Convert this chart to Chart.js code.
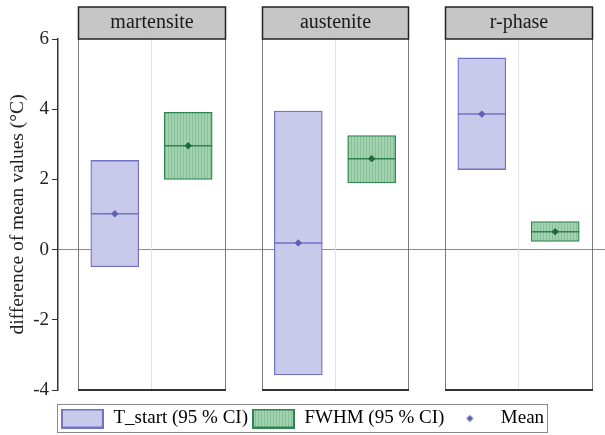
<!DOCTYPE html>
<html lang="en">
<head>
<meta charset="UTF-8" />
<title>difference of mean values</title>
<style>
  body { margin: 0; background: #fff; }
  #wrap { width: 605px; height: 435px; }
</style>
</head>
<body>
<div id="wrap"><canvas id="c" width="605" height="435"></canvas></div>
<script src="https://cdn.jsdelivr.net/npm/chart.js"></script>
<script>
// values
const phases = ['martensite', 'austenite', 'r-phase'];
const tStartLow  = [-0.49, -3.57, 2.28];
const tStartHigh = [2.54, 3.95, 5.46];
const tStartMean = [1.02, 0.19, 3.86];
const fwhmLow  = [2.0, 1.9, 0.23];
const fwhmHigh = [3.91, 3.25, 0.8];
const fwhmMean = [2.96, 2.59, 0.51];
const yTicks = [-4, -2, 0, 2, 4, 6];
const legendNames = ['T_start (95 % CI)', 'FWHM (95 % CI)', 'Mean'];

const FONT = "'Liberation Serif', 'Times New Roman', serif";
const BLUE_FILL = '#c9c9ec', BLUE_LINE = '#7272c4', BLUE_DOT = '#5f5fb3';
const GREEN_LINE = '#2f8450', GREEN_DOT = '#1d6a3a';
const side = 0.2;       // offset of each box from the panel centre
const panelHalf = 0.4;  // half width of a panel, in category units

// green hatched fill
function hatch() {
  const p = document.createElement('canvas');
  p.width = 3; p.height = 3;
  const g = p.getContext('2d');
  g.fillStyle = '#a2d2b0';
  g.fillRect(0, 0, 3, 3);
  g.fillStyle = '#86c096';
  g.fillRect(0, 0, 1, 3);
  return g.createPattern(p, 'repeat');
}
const GREEN_FILL = hatch();

// legend swatches
function swatch(fill, stroke) {
  const s = document.createElement('canvas');
  s.width = 43; s.height = 20;
  const g = s.getContext('2d');
  g.fillStyle = fill;
  g.fillRect(0, 0, 43, 20);
  g.strokeStyle = stroke; g.lineWidth = 2;
  g.strokeRect(1, 1, 41, 18);
  return s;
}
function dot() {
  const s = document.createElement('canvas');
  s.width = 43; s.height = 20;
  const g = s.getContext('2d');
  g.fillStyle = BLUE_DOT;
  g.beginPath();
  g.moveTo(21.5, 6.5); g.lineTo(25, 10); g.lineTo(21.5, 13.5); g.lineTo(18, 10);
  g.closePath(); g.fill();
  return s;
}
const legendIcons = [swatch(BLUE_FILL, BLUE_LINE), swatch(GREEN_FILL, GREEN_LINE), dot()];

const rng = (lo, hi, d) => phases.map((p, i) => ({x: i + d, y: [lo[i], hi[i]]}));
const pts = (v, d) => phases.map((p, i) => ({x: i + d, y: v[i]}));

const panels = {
  id: 'panels',
  beforeLayout(chart) {
    // the legend is a bit shorter than chart.js makes it
    const lg = chart.legend;
    if (lg && !lg._short) {
      const fit = lg.fit;
      lg.fit = function () { fit.call(this); this.height -= 3; };
      lg._short = true;
    }
  },
  beforeDatasetsDraw(chart) {
    const {ctx, chartArea: a, scales: {x}} = chart;
    ctx.save();
    phases.forEach((p, i) => {
      const c = x.getPixelForValue(i);
      const l = Math.round(x.getPixelForValue(i - panelHalf)) + 0.5;
      const r = Math.round(x.getPixelForValue(i + panelHalf)) + 0.5;
      ctx.lineWidth = 1;
      ctx.strokeStyle = '#e2e2e2';
      ctx.beginPath(); ctx.moveTo(Math.round(c) + 0.5, a.top); ctx.lineTo(Math.round(c) + 0.5, a.bottom); ctx.stroke();
      ctx.strokeStyle = '#7a7a7a';
      ctx.beginPath();
      ctx.moveTo(l, a.top); ctx.lineTo(l, a.bottom);
      ctx.moveTo(r, a.top); ctx.lineTo(r, a.bottom);
      ctx.stroke();
    });
    ctx.restore();
  },
  afterDraw(chart) {
    const {ctx, chartArea: a, scales: {x}} = chart;
    ctx.save();
    phases.forEach((p, i) => {
      const l = Math.round(x.getPixelForValue(i - panelHalf)) + 0.5;
      const r = Math.round(x.getPixelForValue(i + panelHalf)) + 0.5;
      ctx.strokeStyle = '#333'; ctx.lineWidth = 2;
      ctx.beginPath(); ctx.moveTo(l - 0.5, a.bottom); ctx.lineTo(r + 0.5, a.bottom); ctx.stroke();
      ctx.fillStyle = '#c6c6c6';
      ctx.fillRect(l, a.top - 32, r - l, 32);
      ctx.strokeStyle = '#222'; ctx.lineWidth = 1.5;
      ctx.strokeRect(l, a.top - 32, r - l, 32);
      ctx.fillStyle = '#1a1a1a';
      ctx.font = '20px ' + FONT;
      ctx.textAlign = 'center'; ctx.textBaseline = 'middle';
      ctx.fillText(p, (l + r) / 2, a.top - 16);
    });
    // frame round the legend
    const boxes = chart.legend.legendHitBoxes;
    if (boxes && boxes.length) {
      const first = boxes[0], last = boxes[boxes.length - 1];
      const x0 = Math.round(first.left) - 3.5, x1 = Math.round(last.left + last.width) + 3.5;
      const y0 = Math.round(first.top) - 4.5, y1 = Math.round(first.top + first.height) + 4.5;
      ctx.strokeStyle = '#8a8a8a'; ctx.lineWidth = 1;
      ctx.strokeRect(x0, y0, x1 - x0, y1 - y0);
    }
    ctx.restore();
  }
};

new Chart(document.getElementById('c'), {
  type: 'bar',
  data: {
    datasets: [
      {label: legendNames[0], data: rng(tStartLow, tStartHigh, -side), backgroundColor: BLUE_FILL,
       borderColor: BLUE_LINE, borderWidth: 1.3, borderSkipped: false, barThickness: 48, grouped: false, order: 3},
      {label: legendNames[1], data: rng(fwhmLow, fwhmHigh, side), backgroundColor: GREEN_FILL,
       borderColor: GREEN_LINE, borderWidth: 1.3, borderSkipped: false, barThickness: 48, grouped: false, order: 3},
      {type: 'scatter', label: 'tMeanLine', data: pts(tStartMean, -side), pointStyle: 'line', pointRadius: 24,
       borderColor: BLUE_LINE, pointBorderWidth: 1.5, order: 2},
      {type: 'scatter', label: 'fMeanLine', data: pts(fwhmMean, side), pointStyle: 'line', pointRadius: 24,
       borderColor: GREEN_LINE, pointBorderWidth: 1.5, order: 2},
      {type: 'scatter', label: legendNames[2], data: pts(tStartMean, -side), pointStyle: 'rectRot', pointRadius: 3.2,
       backgroundColor: BLUE_DOT, borderColor: BLUE_DOT, order: 1},
      {type: 'scatter', label: 'fMean', data: pts(fwhmMean, side), pointStyle: 'rectRot', pointRadius: 3.2,
       backgroundColor: GREEN_DOT, borderColor: GREEN_DOT, order: 1}
    ]
  },
  options: {
    responsive: false,
    animation: false,
    layout: {autoPadding: false, padding: {top: 39, right: 0, bottom: 0, left: 0}},
    scales: {
      x: {
        type: 'linear', min: -0.5095, max: 2.4714, offset: false,
        ticks: {display: false}, grid: {display: false, drawTicks: false}, border: {display: false},
        afterFit: s => { s.height = 15; }
      },
      y: {
        min: -4, max: 6,
        afterFit: s => { s.width = 58; },
        afterBuildTicks: s => { s.ticks = yTicks.map(v => ({value: v})); },
        ticks: {font: {family: FONT, size: 19}, color: '#222', padding: 3},
        grid: {
          color: c => (c.tick && c.tick.value === 0 ? '#8c8c8c' : 'rgba(0,0,0,0)'),
          tickColor: '#333', tickLength: 6, lineWidth: 1
        },
        border: {color: '#333', width: 1.5},
        title: {display: true, text: 'difference of mean values (°C)', font: {family: FONT, size: 19.5},
                color: '#222', padding: {top: 6, bottom: 0}}
      }
    },
    plugins: {
      tooltip: {enabled: false},
      legend: {
        position: 'bottom',
        labels: {
          font: {family: FONT, size: 19}, color: '#222', usePointStyle: true,
          pointStyleWidth: 43, boxHeight: 20, padding: 4,
          generateLabels: () => legendNames.map((n, i) => ({
            text: n, pointStyle: legendIcons[i], fillStyle: 'transparent', strokeStyle: 'transparent',
            lineWidth: 0, hidden: false, datasetIndex: i
          }))
        }
      }
    }
  },
  plugins: [panels]
});
</script>
</body>
</html>
